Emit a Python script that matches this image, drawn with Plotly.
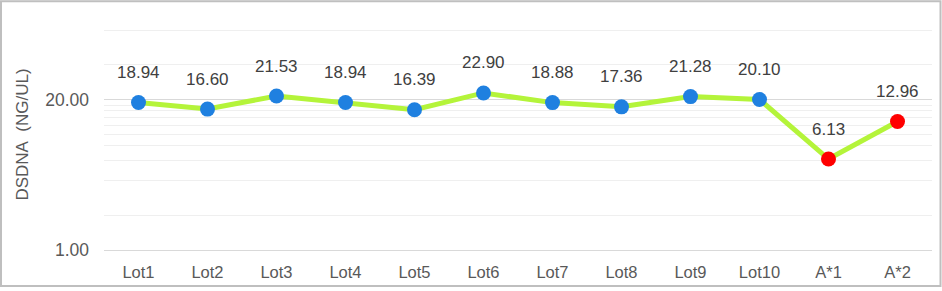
import plotly.graph_objects as go
import math

categories = ["Lot1", "Lot2", "Lot3", "Lot4", "Lot5", "Lot6", "Lot7", "Lot8", "Lot9", "Lot10", "A*1", "A*2"]
values = [18.94, 16.60, 21.53, 18.94, 16.39, 22.90, 18.88, 17.36, 21.28, 20.10, 6.13, 12.96]
marker_colors = ["#1f80e0"] * 10 + ["#ff0000"] * 2
major_ticks = [1, 20]
major_labels = ["1.00", "20.00"]
minor_ticks = [2, 4, 6, 8, 10, 12, 14, 16, 18, 40, 80, 100]

FONT = "Liberation Sans, Arial, sans-serif"

fig = go.Figure()
fig.add_trace(go.Scatter(
    x=categories, y=values, mode="lines+markers",
    line=dict(color="#b4f43a", width=5),
    marker=dict(color=marker_colors, size=15, line=dict(width=0)),
    showlegend=False, hoverinfo="skip",
))

for c, v in zip(categories, values):
    fig.add_annotation(x=c, y=math.log10(v), text=f"{v:.2f}", showarrow=False,
                       yshift=30, font=dict(family=FONT, size=17, color="#404040"))

W, H = 942, 291
ml, mr, mt, mb = 104, 10, 19, 38
pw, ph = W - ml - mr, H - mt - mb

def px(x):
    return (x - ml) / pw

def py(y):
    return (H - mb - y) / ph

fig.add_shape(type="rect", xref="paper", yref="paper",
              x0=px(1), x1=px(W - 1.5), y0=py(H - 1.5), y1=py(1),
              line=dict(color="#bfbfbf", width=2), fillcolor="rgba(0,0,0,0)", layer="above")

fig.update_layout(
    width=W, height=H,
    margin=dict(l=ml, r=mr, t=mt, b=mb),
    paper_bgcolor="white", plot_bgcolor="white",
    font=dict(family=FONT, size=17, color="#595959"),
    xaxis=dict(type="category", range=[-0.5, 11.5], showgrid=False, zeroline=False,
               showline=True, linecolor="#d9d9d9", linewidth=1,
               ticks="", ticklabelstandoff=7, tickfont=dict(size=16.5, color="#595959")),
    yaxis=dict(type="log", range=[0, 2], tickvals=major_ticks, ticktext=major_labels,
               showgrid=True, gridcolor="#d9d9d9", gridwidth=1, zeroline=False,
               showline=False, ticks="", ticklabelstandoff=14,
               tickfont=dict(size=17.5, color="#595959"),
               title=dict(text="DSDNA\u00a0\u00a0(NG/UL)", font=dict(size=17, color="#595959"), standoff=12),
               minor=dict(tickvals=minor_ticks, showgrid=True, gridcolor="#efefef", gridwidth=1, ticks="")),
)

fig.write_html("out.html")
